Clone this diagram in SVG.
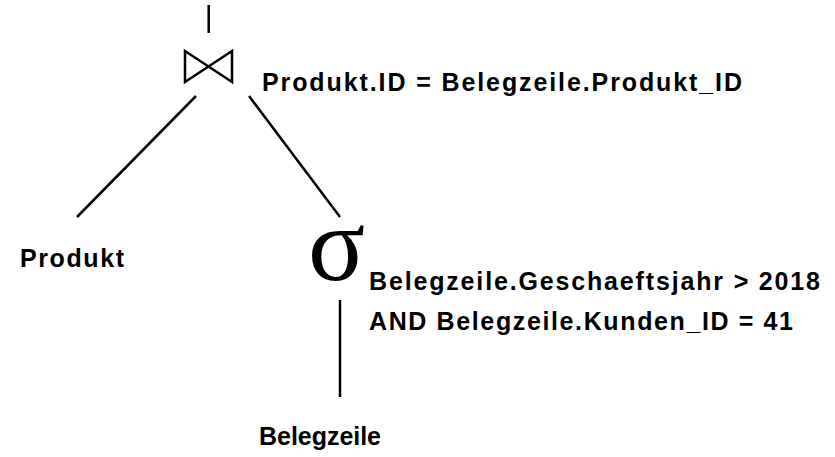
<svg xmlns="http://www.w3.org/2000/svg" width="835" height="457" viewBox="0 0 835 457">
<style>
.t{font-family:"Liberation Sans",Arial,sans-serif;font-weight:bold;font-size:25px;fill:#000}
.l{stroke:#000;stroke-width:2.5;fill:none}
</style>
<rect width="835" height="457" fill="#fff"/>
<g id="connectors">
<line class="l" x1="208.7" y1="5" x2="208.7" y2="33"/>
<line class="l" x1="196" y1="96" x2="77" y2="217"/>
<line class="l" x1="249" y1="96" x2="340" y2="217"/>
<line class="l" x1="340" y1="300" x2="340" y2="397"/>
</g>
<g id="join">
<path class="l" d="M185,51 L232,82 L232,51 L185,82 Z"/>
<text class="t" x="262" y="91" textLength="480" lengthAdjust="spacing">Produkt.ID = Belegzeile.Produkt_ID</text>
</g>
<g id="produkt">
<text class="t" x="20" y="267" textLength="104" lengthAdjust="spacing">Produkt</text>
</g>
<g id="selection">
<text x="308" y="280" font-family="Liberation Serif,serif" font-size="106">σ</text>
<text class="t" x="369" y="290" textLength="451" lengthAdjust="spacing">Belegzeile.Geschaeftsjahr &gt; 2018</text>
<text class="t" x="369" y="330" textLength="424" lengthAdjust="spacing">AND Belegzeile.Kunden_ID = 41</text>
</g>
<g id="belegzeile">
<text class="t" x="259" y="445" textLength="122" lengthAdjust="spacing">Belegzeile</text>
</g>
</svg>
